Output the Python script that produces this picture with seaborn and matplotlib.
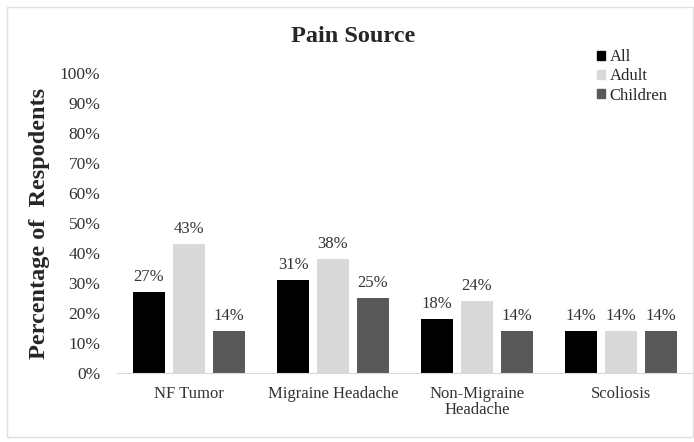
import matplotlib
matplotlib.use("Agg")
import matplotlib.pyplot as plt
import matplotlib.patches as mpatches
import seaborn as sns
import pandas as pd

categories = ["NF Tumor", "Migraine Headache", "Non-Migraine\nHeadache", "Scoliosis"]
series = ["All", "Adult", "Children"]
all_vals = [27, 31, 18, 14]
adult_vals = [43, 38, 24, 14]
children_vals = [14, 25, 14, 14]
yticks = [0, 10, 20, 30, 40, 50, 60, 70, 80, 90, 100]
colors = ["#000000", "#d9d9d9", "#595959"]

rows = []
for s, vals in zip(series, [all_vals, adult_vals, children_vals]):
    for c, v in zip(categories, vals):
        rows.append({"Category": c, "Group": s, "Value": v})
df = pd.DataFrame(rows)

sns.set_style("white")
plt.rcParams["font.family"] = ["Liberation Serif", "DejaVu Serif"]

fig = plt.figure(figsize=(6.94, 4.42), dpi=100)
ax = fig.add_axes([117/694, (442-373)/442, (693-117)/694, 300/442])

sns.barplot(data=df, x="Category", y="Value", hue="Group", order=categories,
            hue_order=series, palette=colors, width=0.833, gap=0.2,
            ax=ax, saturation=1, edgecolor="none", linewidth=0)

for cont in ax.containers:
    ax.bar_label(cont, fmt="%d%%", padding=5, fontsize=12, color="#333333")

ax.set_ylim(0, 100)
ax.set_yticks(yticks)
ax.set_yticklabels([f"{t}%" for t in yticks], fontsize=12.5, color="#333333")
ax.tick_params(axis="x", labelsize=12, labelcolor="#333333", length=0, pad=9)
ax.tick_params(axis="y", length=0, pad=12)
for lab in ax.get_xticklabels():
    lab.set_linespacing(1.05)
ax.set_xlabel("")
ax.set_ylabel("Percentage of  Respodents", fontsize=17.5, fontweight="bold", labelpad=7)
for sp in ["top", "right", "left"]:
    ax.spines[sp].set_visible(False)
ax.spines["bottom"].set_color("#d9d9d9")
ax.set_xlim(-0.5, 3.5)

fig.text(353/694, 1 - 37/442, "Pain Source", ha="center", va="center",
         fontsize=17.5, fontweight="bold")

handles = [mpatches.Patch(color=c, label=s) for c, s in zip(colors, series)]
if ax.get_legend():
    ax.get_legend().remove()
fig.legend(handles=handles, loc="upper left", bbox_to_anchor=(597/694, 1 - 49/442),
           frameon=False, fontsize=12, handlelength=0.45, handleheight=0.45,
           handletextpad=0.3, labelspacing=0.2, borderaxespad=0, borderpad=0)

border = mpatches.Rectangle((7/694, 5/442), 686/694, 430/442, transform=fig.transFigure,
                            fill=False, edgecolor="#e0e0e0", linewidth=1)
fig.patches.append(border)

fig.savefig("out.png", dpi=100)
